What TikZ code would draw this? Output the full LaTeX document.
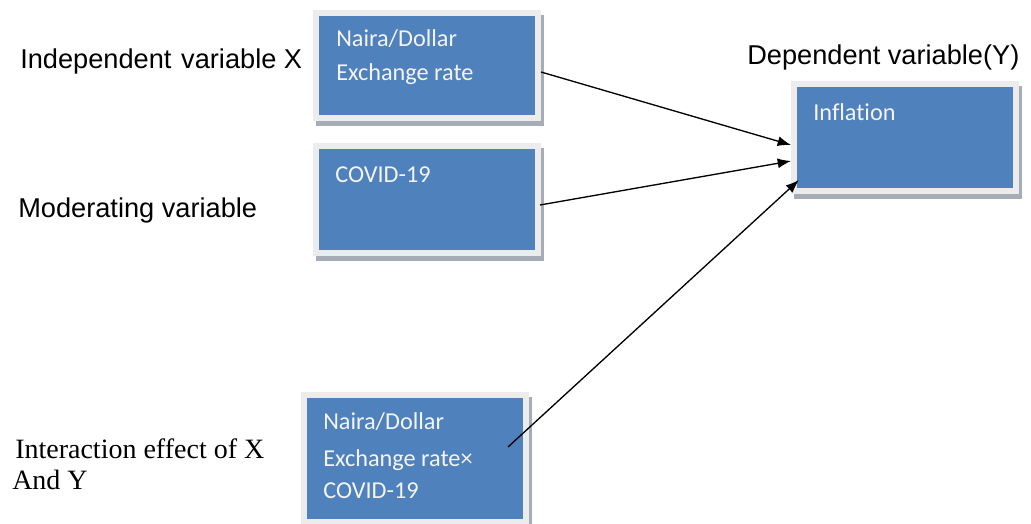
\documentclass[tikz,border=0pt]{standalone}
\usepackage{fontspec}
\usetikzlibrary{arrows.meta,calc}
\newfontfamily\arialf{Liberation Sans}
\newfontfamily\calibrif[Ligatures={NoCommon}]{Carlito}
\newfontfamily\timesf{Liberation Serif}
\definecolor{boxblue}{HTML}{4F81BD}
\definecolor{framegray}{HTML}{ECECEC}
\definecolor{shadowgray}{HTML}{A6ADB7}
\definecolor{boxtext}{HTML}{F4F4F4}
\tikzset{
  vbox/.style={draw=framegray, line width=4.5pt, fill=boxblue, minimum width=222*0.75pt, inner sep=0pt, outer sep=0pt,
    preaction={draw=shadowgray, fill=shadowgray, line width=4.5pt, transform canvas={xshift=2.25pt, yshift=-3.75pt}}},
  outlab/.style={anchor=base west, inner sep=0pt, font=\arialf\fontsize{20.4}{24}\selectfont},
  serlab/.style={anchor=base west, inner sep=0pt, font=\timesf\fontsize{21}{24}\selectfont},
  inlab/.style={anchor=base west, inner sep=0pt, text=boxtext, font=\calibrif\fontsize{18.2}{22}\selectfont},
  arr/.style={line width=1pt, -{Latex[length=10pt, width=7.5pt]}}
}
\begin{document}
\begin{tikzpicture}[x=0.75pt, y=-0.75pt]
\useasboundingbox (0,0) rectangle (1031,524);
% boxes
\node[vbox, minimum height=105*0.75pt] (b1) at (427,66) {};
\node[vbox, minimum height=106*0.75pt] (b2) at (427,199.5) {};
\node[vbox, minimum height=106*0.75pt] (inf) at (905,137.5) {};
\node[vbox, minimum height=127*0.75pt] (b4) at (415,458.5) {};
% box texts
\node[inlab] (t1a) at (336,47) {Naira/Dollar};
\node[inlab] (t1b) at (336,81) {Exchange rate};
\node[inlab] (t2) at (335,183) {COVID-19};
\node[inlab] (t3) at (813,121) {Inflation};
\node[inlab] (t4a) at (323,429) {Naira/Dollar};
\node[inlab] (t4b) at (323,466) {Exchange rate×};
\node[inlab] (t4c) at (323,498) {COVID-19};
% outer labels
\node[outlab] (l1) at (20,69) {Independent\hspace{0.08em} variable X};
\node[outlab] (l2) at (18,217) {Moderating variable};
\node[outlab] (l3) at (747,65) {Dependent variable(Y)};
\node[serlab] (l4) at (15,458) {Interaction effect of X};
\node[serlab] (l5) at (12,489) {And Y};
% connectors
\coordinate (s1) at (541,72);
\coordinate (e1) at (791,145);
\coordinate (s2) at (540,205);
\coordinate (e2) at (791,161);
\coordinate (s3) at (508,447);
\coordinate (e3) at (799,180);
\draw[arr] (s1) -- (e1);
\draw[arr] (s2) -- (e2);
\draw[arr] (s3) -- (e3);
\end{tikzpicture}
\end{document}
